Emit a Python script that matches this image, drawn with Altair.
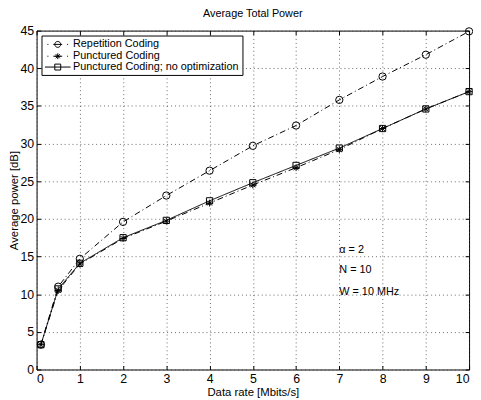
import altair as alt
import pandas as pd

# ---- data ----
rate = [0.1, 0.5, 1, 2, 3, 4, 5, 6, 7, 8, 9, 10]
repetition = [3.3, 11.0, 14.7, 19.6, 23.1, 26.4, 29.7, 32.4, 35.8, 38.9, 41.8, 44.9]
punctured = [3.3, 10.5, 14.0, 17.4, 19.7, 22.1, 24.5, 26.8, 29.2, 32.0, 34.6, 36.9]
no_opt = [3.3, 10.7, 14.1, 17.5, 19.8, 22.4, 24.8, 27.1, 29.4, 32.0, 34.6, 36.9]

series = ["Repetition Coding", "Punctured Coding", "Punctured Coding; no optimization"]
x_ticks = [0, 1, 2, 3, 4, 5, 6, 7, 8, 9, 10]
y_ticks = [0, 5, 10, 15, 20, 25, 30, 35, 40, 45]

ann_x = [7, 7, 7]
ann_y = [15.9, 13.2, 10.3]
ann_text = ["α = 2", "N = 10", "W = 10 MHz"]

rows = []
for name, vals in zip(series, [repetition, punctured, no_opt]):
    for r, v in zip(rate, vals):
        rows.append({"rate": r, "power": v, "series": name})
df = pd.DataFrame(rows)
ann = pd.DataFrame({"x": ann_x, "y": ann_y, "t": ann_text})

FONT = "Liberation Sans"

# marker shapes on the plot
star = "M-1,0H1M0,-1V1M-0.7,-0.7L0.7,0.7M-0.7,0.7L0.7,-0.7"
plot_shapes = ["circle", star, "square"]

# legend symbols (line segment + marker), drawn in a wide path; symbol size 121 -> 5.5 px/unit
S = 5.5
def u(px):
    return round(-1 + px / S, 3)

def seg(a, b):
    return f"M{u(a)},0H{u(b)}"

cx = 13.0
r = u(cx + 3) - u(cx)
leg_circle = (seg(2.5, 3.5) + seg(8.5, 17.5) + seg(22.5, 23.5) +
              f"M{u(cx + 3)},0A{r},{r} 0 1,1 {u(cx - 3)},0A{r},{r} 0 1,1 {u(cx + 3)},0")
d = round(r * 0.7, 3)
c = u(cx)
leg_star = (seg(2.5, 3.5) + seg(8.5, 17.5) + seg(22.5, 23.5) +
            f"M{u(cx - 3)},0H{u(cx + 3)}M{c},{-r}V{r}"
            f"M{round(c - d, 3)},{-d}L{round(c + d, 3)},{d}M{round(c - d, 3)},{d}L{round(c + d, 3)},{-d}")
leg_square = (seg(0, 26) +
              f"M{u(cx - 3)},{-r}H{u(cx + 3)}V{r}H{u(cx - 3)}Z")
legend_shapes = [leg_circle, leg_star, leg_square]

xs = alt.Scale(domain=[0, 10], nice=False, zero=False)
ys = alt.Scale(domain=[0, 45], nice=False)

x_enc = alt.X("rate:Q", scale=xs,
              axis=alt.Axis(values=x_ticks, title="Data rate [Mbits/s]", format="d",
                            ticks=True, tickSize=4, offset=-4, labelPadding=3,
                            titlePadding=2, labelOverlap=False))
y_enc = alt.Y("power:Q", scale=ys,
              axis=alt.Axis(values=y_ticks, title="Average power [dB]", format="d",
                            ticks=True, tickSize=4, offset=-4, labelPadding=3,
                            titlePadding=0, labelOverlap=False))

lines = alt.Chart(df).mark_line(color="black", strokeWidth=1).encode(
    x=x_enc, y=y_enc,
    detail="series:N",
    strokeDash=alt.StrokeDash("series:N", scale=alt.Scale(
        domain=series, range=[[6, 3, 1, 3], [6, 3, 1, 3], [1, 0]]), legend=None),
)

points = alt.Chart(df).mark_point(color="black", filled=False, strokeWidth=1, opacity=1).encode(
    x=x_enc, y=y_enc,
    shape=alt.Shape("series:N", scale=alt.Scale(domain=series, range=plot_shapes), legend=None),
    size=alt.Size("series:N", scale=alt.Scale(domain=series, range=[55, 40, 40]), legend=None),
)

legend_layer = alt.Chart(df).transform_filter("false").mark_point(
    color="black", filled=False, strokeWidth=1, opacity=1
).encode(
    x=x_enc, y=y_enc,
    shape=alt.Shape("series:N", scale=alt.Scale(domain=series, range=legend_shapes),
                    legend=alt.Legend(title=None, orient="top-left", offset=5,
                                      strokeColor="black", fillColor="white",
                                      padding=3, rowPadding=0, labelLimit=400,
                                      symbolSize=121, symbolStrokeColor="black",
                                      symbolStrokeWidth=1, symbolFillColor="transparent",
                                      symbolOpacity=1, symbolOffset=0,
                                      labelFont=FONT, labelFontSize=11, labelColor="black",
                                      labelOffset=17, cornerRadius=0)),
)

main = alt.layer(lines, points, legend_layer).resolve_scale(shape="independent")

texts = alt.Chart(ann).mark_text(align="left", baseline="middle", font=FONT,
                                 fontSize=11, color="black").encode(
    x=alt.X("x:Q", scale=xs,
            axis=alt.Axis(orient="top", values=x_ticks, labels=False, title=None,
                          grid=False, ticks=True, tickSize=4, offset=-4)),
    y=alt.Y("y:Q", scale=ys,
            axis=alt.Axis(orient="right", values=y_ticks, labels=False, title=None,
                          grid=False, ticks=True, tickSize=4, offset=-4)),
    text="t:N")

chart = alt.layer(main, texts).resolve_axis(
    x="independent", y="independent"
).properties(
    width=439, height=344,
    title=alt.TitleParams("Average Total Power", font=FONT, fontSize=11,
                          fontWeight="normal", color="black", offset=6),
    autosize=alt.AutoSizeParams(type="none"),
    padding={"left": 29, "top": 20, "right": 4, "bottom": 28},
).configure_view(
    stroke="black", strokeWidth=1
).configure_axis(
    labelFont=FONT, titleFont=FONT, labelFontSize=12.5, titleFontSize=11.5,
    labelColor="black", titleColor="black", titleFontWeight="normal",
    grid=True, gridColor="#444", gridDash=[1, 3], gridWidth=1, gridOpacity=0.8,
    domain=False, tickColor="black", tickWidth=1,
)

chart.save("out.html", embed_options={"renderer": "svg", "actions": False})
